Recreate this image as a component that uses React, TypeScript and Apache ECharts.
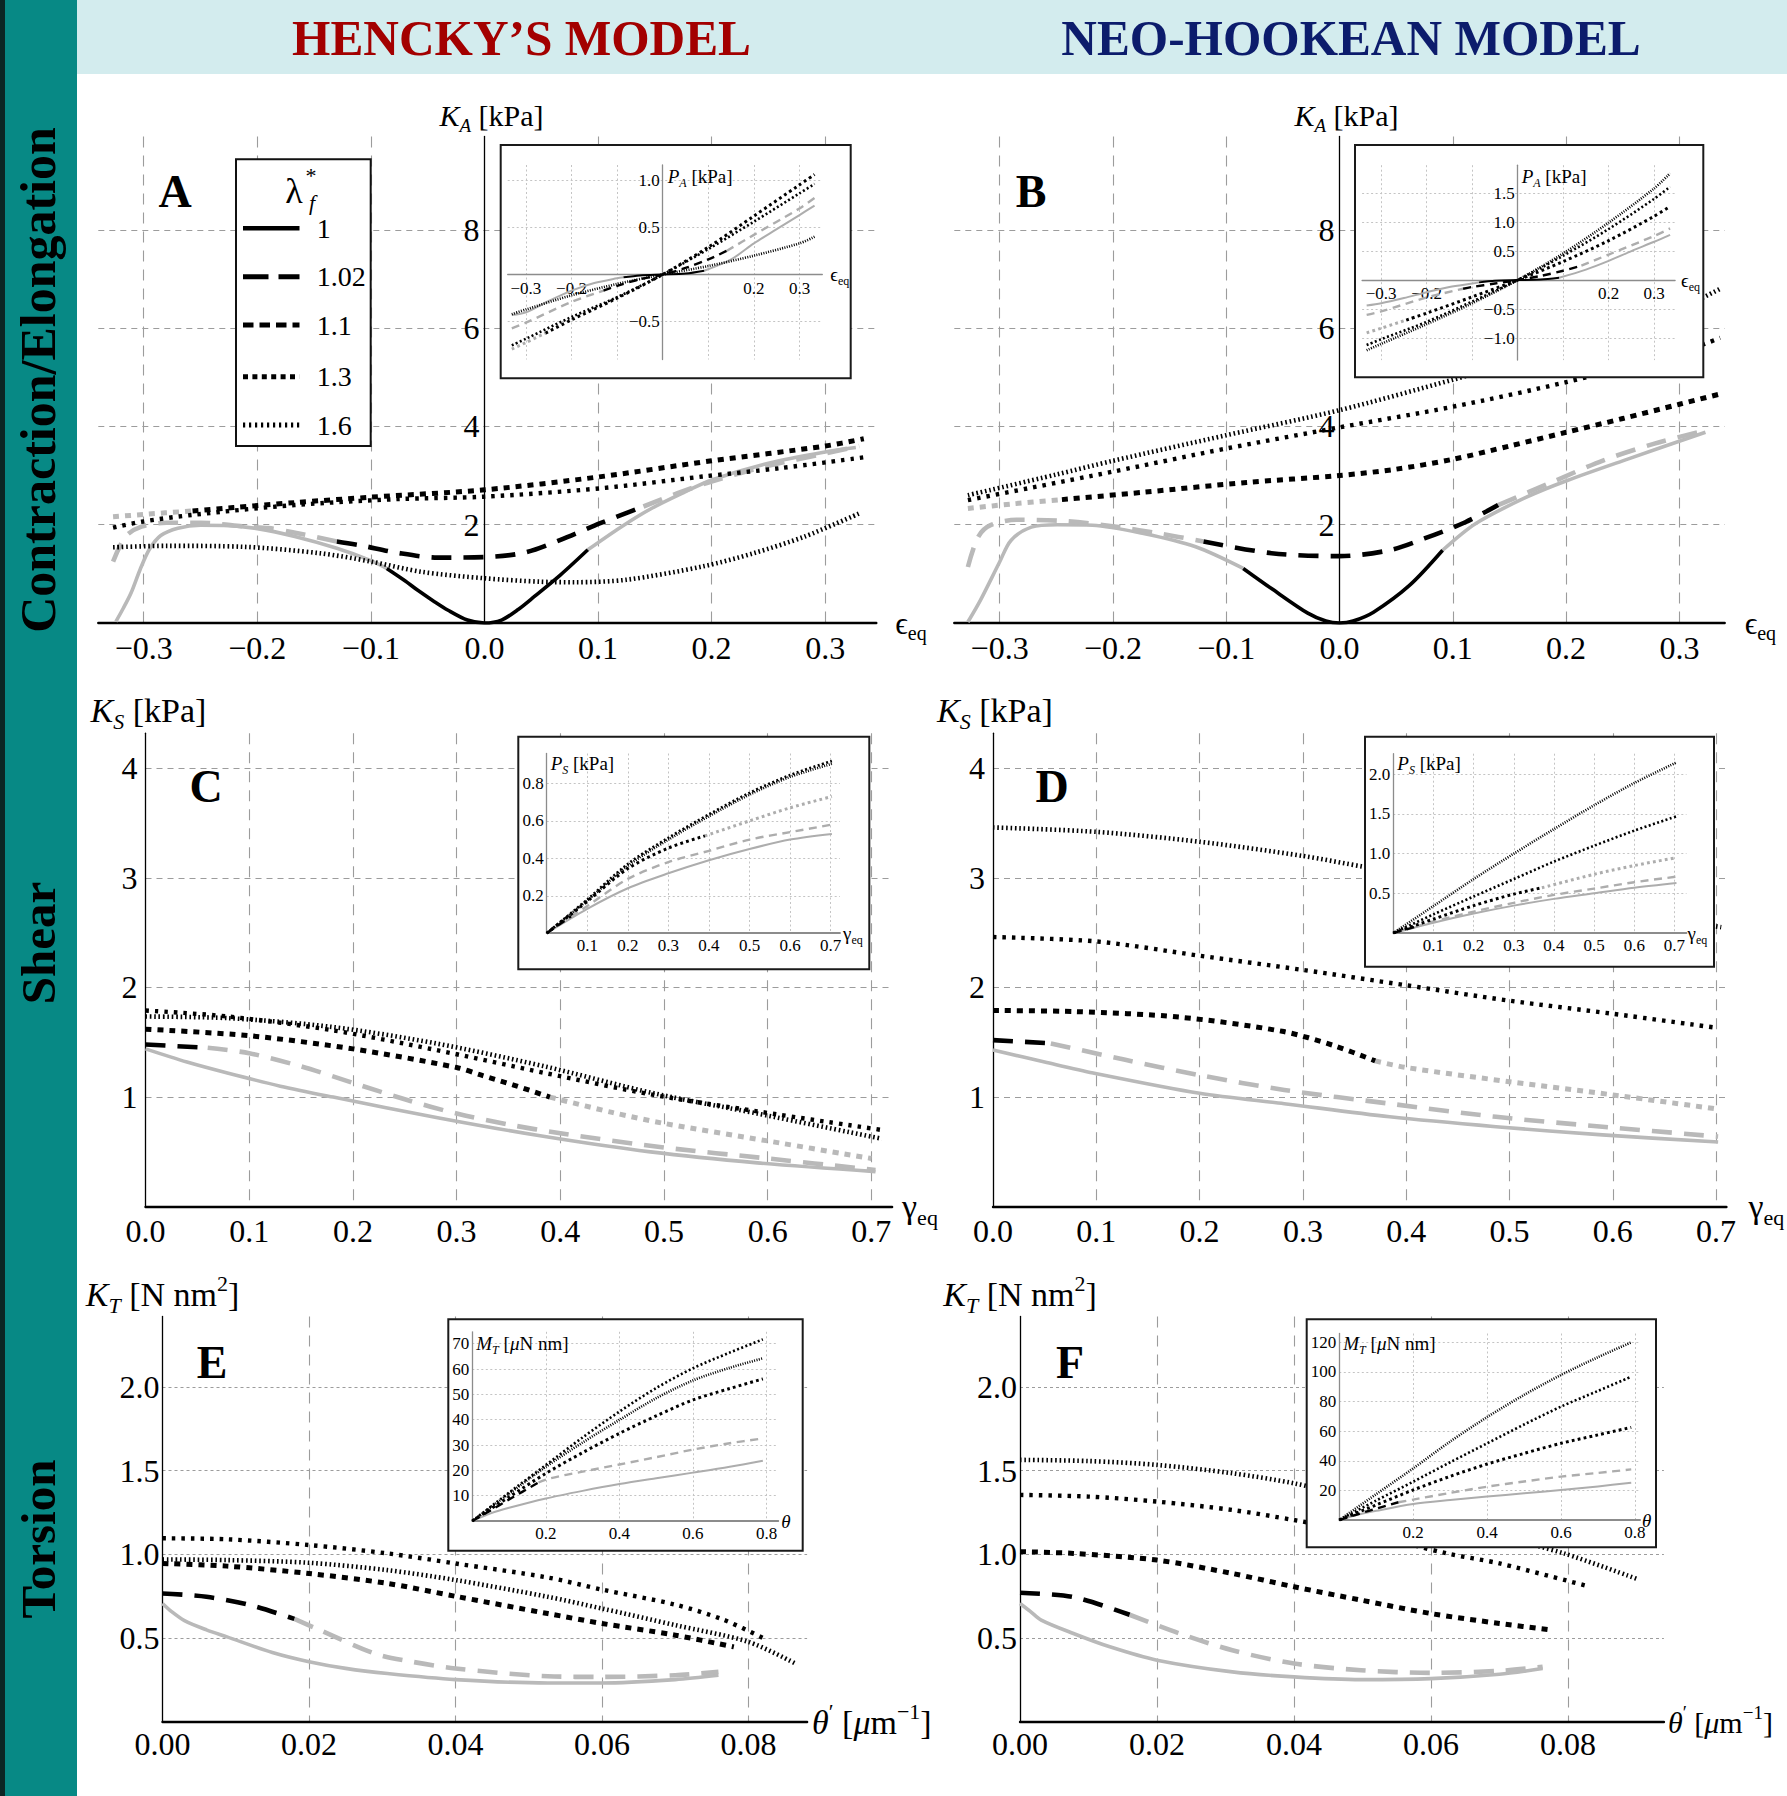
import React, { useEffect, useRef } from "react";
import * as echarts from "echarts";

type Pt = [number, number];
type Band = [number, number] | null;

const SERIF = '"Liberation Serif", "DejaVu Serif", "Times New Roman", serif';
const ALL: [number, number] = [-Infinity, Infinity];

// fibre pre-stretch values, one curve each
const LAMBDA_F = ["1", "1.02", "1.1", "1.3", "1.6"];

// ---------- A: Hencky, K_A [kPa] vs eps_eq ----------
const hKA1: Pt[] = [[-0.3245,0.03],[-0.318,0.3],[-0.311,0.62],[-0.303,1.1],[-0.295,1.5],[-0.285,1.78],[-0.27,1.93],[-0.25,1.99],[-0.225,1.98],[-0.2,1.92],[-0.167,1.76],[-0.13,1.52],[-0.1,1.27],[-0.086,1.11],[-0.07,0.86],[-0.059,0.67],[-0.045,0.45],[-0.032,0.26],[-0.015,0.06],[0,0],[0.015,0.06],[0.03,0.28],[0.044,0.54],[0.067,0.98],[0.091,1.49],[0.12,1.95],[0.147,2.33],[0.175,2.65],[0.2,2.91],[0.25,3.25],[0.3,3.48],[0.327,3.57]];
const hKA102: Pt[] = [[-0.327,1.25],[-0.316,1.76],[-0.302,1.96],[-0.28,2.04],[-0.25,2.04],[-0.21,1.96],[-0.19,1.93],[-0.17,1.85],[-0.13,1.66],[-0.109,1.58],[-0.077,1.43],[-0.041,1.33],[0,1.34],[0.035,1.43],[0.067,1.69],[0.102,2.03],[0.14,2.37],[0.17,2.64],[0.2,2.88],[0.25,3.2],[0.3,3.45],[0.33,3.6]];
const hKA11: Pt[] = [[-0.327,2.16],[-0.3,2.21],[-0.257,2.28],[-0.221,2.35],[-0.167,2.45],[-0.1,2.56],[0,2.71],[0.1,2.97],[0.2,3.3],[0.3,3.6],[0.334,3.75]];
const hKA13: Pt[] = [[-0.327,1.94],[-0.302,2.06],[-0.257,2.2],[-0.167,2.4],[-0.077,2.52],[0,2.57],[0.102,2.74],[0.192,2.98],[0.26,3.15],[0.334,3.37]];
const hKA16: Pt[] = [[-0.327,1.54],[-0.28,1.57],[-0.212,1.55],[-0.145,1.42],[-0.1,1.25],[-0.055,1.04],[0,0.91],[0.049,0.84],[0.08,0.83],[0.125,0.88],[0.192,1.15],[0.237,1.42],[0.282,1.76],[0.33,2.23]];
const hKA_bands: Band[] = [[-0.086, 0.091], [-0.13, 0.14], [-0.257, Infinity], ALL, ALL];

// ---------- B: neo-Hookean, K_A [kPa] vs eps_eq ----------
const nKA1: Pt[] = [[-0.328,0.02],[-0.317,0.46],[-0.3,1.24],[-0.29,1.68],[-0.272,1.95],[-0.249,2.0],[-0.218,1.99],[-0.173,1.82],[-0.127,1.55],[-0.085,1.11],[-0.06,0.7],[-0.028,0.2],[-0.012,0.04],[0,0],[0.012,0.04],[0.03,0.22],[0.062,0.77],[0.091,1.48],[0.12,2.02],[0.165,2.56],[0.201,2.9],[0.255,3.34],[0.323,3.88]];
const nKA102: Pt[] = [[-0.328,1.14],[-0.319,1.75],[-0.308,1.99],[-0.285,2.1],[-0.24,2.07],[-0.195,1.95],[-0.159,1.82],[-0.12,1.66],[-0.06,1.42],[0,1.36],[0.044,1.48],[0.075,1.72],[0.111,2.05],[0.14,2.4],[0.188,2.87],[0.233,3.31],[0.278,3.65],[0.323,3.92]];
const nKA11: Pt[] = [[-0.328,2.33],[-0.29,2.42],[-0.245,2.51],[-0.173,2.66],[-0.082,2.86],[0,3.0],[0.05,3.13],[0.1,3.33],[0.15,3.6],[0.2,3.88],[0.25,4.16],[0.3,4.45],[0.336,4.66]];
const nKA13: Pt[] = [[-0.328,2.5],[-0.2,3.08],[-0.1,3.55],[0,3.98],[0.1,4.4],[0.2,4.9],[0.3,5.5],[0.336,5.8]];
const nKA16: Pt[] = [[-0.328,2.6],[-0.25,3.02],[-0.2,3.3],[-0.1,3.82],[0,4.33],[0.1,4.95],[0.2,5.6],[0.3,6.4],[0.336,6.8]];
const nKA_bands: Band[] = [[-0.085, 0.091], [-0.12, 0.14], [-0.245, Infinity], ALL, ALL];

// ---------- A inset: Hencky, P_A [kPa] ----------
const hPA1: Pt[] = [[-0.331,-0.43],[-0.3,-0.4],[-0.25,-0.28],[-0.2,-0.17],[-0.15,-0.09],[-0.1,-0.04],[-0.086,-0.03],[-0.05,-0.01],[0,0],[0.05,0.01],[0.091,0.04],[0.15,0.16],[0.2,0.33],[0.25,0.48],[0.3,0.63],[0.333,0.73]];
const hPA102: Pt[] = [[-0.331,-0.57],[-0.3,-0.51],[-0.2,-0.29],[-0.13,-0.17],[-0.1,-0.12],[-0.05,-0.05],[0,0],[0.05,0.07],[0.1,0.16],[0.14,0.25],[0.2,0.42],[0.3,0.7],[0.333,0.81]];
const hPA11: Pt[] = [[-0.331,-0.79],[-0.3,-0.72],[-0.257,-0.62],[-0.2,-0.48],[-0.1,-0.25],[0,0],[0.1,0.29],[0.2,0.62],[0.3,0.95],[0.333,1.06]];
const hPA13: Pt[] = [[-0.331,-0.75],[-0.3,-0.68],[-0.2,-0.45],[-0.1,-0.24],[0,0],[0.1,0.27],[0.2,0.56],[0.3,0.86],[0.333,0.96]];
const hPA16: Pt[] = [[-0.331,-0.42],[-0.3,-0.37],[-0.2,-0.22],[-0.1,-0.1],[0,0],[0.1,0.09],[0.2,0.2],[0.3,0.33],[0.333,0.4]];

// ---------- B inset: neo-Hookean, P_A [kPa] ----------
const nPA1: Pt[] = [[-0.332,-0.44],[-0.3,-0.4],[-0.25,-0.31],[-0.2,-0.21],[-0.15,-0.12],[-0.1,-0.06],[-0.085,-0.04],[-0.05,-0.01],[0,0],[0.05,0.01],[0.091,0.04],[0.15,0.18],[0.2,0.33],[0.25,0.5],[0.3,0.66],[0.335,0.78]];
const nPA102: Pt[] = [[-0.332,-0.6],[-0.3,-0.54],[-0.2,-0.3],[-0.12,-0.15],[-0.1,-0.12],[-0.05,-0.06],[0,0],[0.05,0.07],[0.1,0.16],[0.14,0.25],[0.2,0.44],[0.3,0.76],[0.335,0.89]];
const nPA11: Pt[] = [[-0.332,-0.91],[-0.3,-0.83],[-0.245,-0.69],[-0.2,-0.57],[-0.1,-0.29],[0,0],[0.1,0.32],[0.2,0.68],[0.3,1.1],[0.335,1.27]];
const nPA13: Pt[] = [[-0.332,-1.12],[-0.3,-1.02],[-0.2,-0.72],[-0.1,-0.37],[0,0],[0.1,0.42],[0.2,0.88],[0.3,1.4],[0.335,1.61]];
const nPA16: Pt[] = [[-0.332,-1.21],[-0.3,-1.1],[-0.2,-0.76],[-0.1,-0.4],[0,0],[0.1,0.46],[0.2,0.99],[0.3,1.58],[0.335,1.84]];

// ---------- C: Hencky, K_S [kPa] vs gamma_eq ----------
const hKS1: Pt[] = [[0,1.44],[0.04,1.32],[0.079,1.22],[0.13,1.1],[0.181,1.0],[0.283,0.81],[0.385,0.64],[0.487,0.5],[0.59,0.4],[0.704,0.32]];
const hKS102: Pt[] = [[0,1.48],[0.06,1.45],[0.1,1.4],[0.15,1.28],[0.2,1.13],[0.25,0.98],[0.3,0.85],[0.35,0.75],[0.4,0.67],[0.5,0.54],[0.6,0.44],[0.704,0.335]];
const hKS11: Pt[] = [[0,1.62],[0.1,1.56],[0.2,1.44],[0.3,1.27],[0.324,1.2],[0.355,1.11],[0.39,1.0],[0.45,0.86],[0.5,0.76],[0.6,0.6],[0.7,0.44]];
const hKS13: Pt[] = [[0,1.79],[0.08,1.735],[0.18,1.61],[0.28,1.43],[0.385,1.22],[0.49,1.02],[0.59,0.87],[0.71,0.7]];
const hKS16: Pt[] = [[0,1.735],[0.08,1.72],[0.18,1.64],[0.28,1.49],[0.385,1.28],[0.49,1.035],[0.59,0.85],[0.71,0.62]];
const hKS_bands: Band[] = [null, [0, 0.06], [0, 0.39], ALL, ALL];

// ---------- D: neo-Hookean, K_S [kPa] vs gamma_eq ----------
const nKS1: Pt[] = [[0,1.43],[0.05,1.32],[0.097,1.22],[0.2,1.035],[0.282,0.94],[0.384,0.82],[0.487,0.73],[0.59,0.655],[0.702,0.59]];
const nKS102: Pt[] = [[0,1.52],[0.056,1.49],[0.128,1.34],[0.2,1.2],[0.282,1.065],[0.384,0.94],[0.487,0.82],[0.59,0.73],[0.702,0.64]];
const nKS11: Pt[] = [[0,1.79],[0.08,1.78],[0.18,1.73],[0.28,1.6],[0.33,1.47],[0.37,1.33],[0.4,1.27],[0.5,1.14],[0.6,1.02],[0.702,0.89]];
const nKS13: Pt[] = [[0,2.46],[0.1,2.42],[0.2,2.29],[0.3,2.16],[0.4,2.02],[0.5,1.88],[0.6,1.76],[0.702,1.63]];
const nKS16: Pt[] = [[0,3.46],[0.1,3.42],[0.2,3.33],[0.3,3.2],[0.36,3.1],[0.5,2.88],[0.6,2.71],[0.705,2.55]];
const nKS_bands: Band[] = [null, [0, 0.056], [0, 0.37], ALL, ALL];

// ---------- C inset: Hencky, P_S [kPa] ----------
const hPS1: Pt[] = [[0,0],[0.1,0.13],[0.2,0.24],[0.3,0.32],[0.4,0.39],[0.5,0.45],[0.6,0.5],[0.703,0.53]];
const hPS102: Pt[] = [[0,0],[0.06,0.09],[0.1,0.145],[0.2,0.29],[0.3,0.38],[0.4,0.44],[0.5,0.5],[0.6,0.54],[0.703,0.58]];
const hPS11: Pt[] = [[0,0],[0.1,0.17],[0.2,0.345],[0.3,0.455],[0.39,0.52],[0.5,0.6],[0.6,0.67],[0.703,0.73]];
const hPS13: Pt[] = [[0,0],[0.1,0.18],[0.2,0.37],[0.3,0.51],[0.4,0.635],[0.5,0.75],[0.6,0.845],[0.703,0.92]];
const hPS16: Pt[] = [[0,0],[0.1,0.175],[0.2,0.36],[0.3,0.5],[0.4,0.625],[0.5,0.74],[0.6,0.835],[0.703,0.905]];

// ---------- D inset: neo-Hookean, P_S [kPa] ----------
const nPS1: Pt[] = [[0,0],[0.1,0.13],[0.2,0.245],[0.3,0.345],[0.4,0.43],[0.5,0.5],[0.6,0.57],[0.705,0.63]];
const nPS102: Pt[] = [[0,0],[0.056,0.08],[0.1,0.145],[0.2,0.27],[0.3,0.38],[0.4,0.48],[0.5,0.56],[0.6,0.64],[0.705,0.71]];
const nPS11: Pt[] = [[0,0],[0.1,0.175],[0.2,0.345],[0.3,0.49],[0.37,0.57],[0.5,0.74],[0.6,0.85],[0.705,0.95]];
const nPS13: Pt[] = [[0,0],[0.1,0.235],[0.2,0.46],[0.3,0.68],[0.4,0.9],[0.5,1.1],[0.6,1.29],[0.705,1.47]];
const nPS16: Pt[] = [[0,0],[0.1,0.34],[0.2,0.68],[0.3,1.0],[0.4,1.31],[0.5,1.61],[0.6,1.89],[0.705,2.15]];

// ---------- E: Hencky, K_T [N nm^2] vs theta' ----------
const hKT1: Pt[] = [[0,0.707],[0.0012,0.66],[0.003,0.605],[0.006,0.55],[0.0088,0.508],[0.015,0.415],[0.02,0.36],[0.025,0.32],[0.0307,0.289],[0.04,0.253],[0.0526,0.233],[0.06,0.233],[0.07,0.253],[0.0759,0.279]];
const hKT102: Pt[] = [[0,0.767],[0.006,0.747],[0.012,0.697],[0.018,0.615],[0.021,0.558],[0.029,0.408],[0.034,0.36],[0.04,0.319],[0.0526,0.273],[0.06,0.269],[0.07,0.279],[0.0759,0.299]];
const hKT11: Pt[] = [[0,0.946],[0.0088,0.93],[0.02,0.886],[0.0307,0.827],[0.04,0.75],[0.0526,0.647],[0.06,0.588],[0.07,0.518],[0.078,0.448]];
const hKT13: Pt[] = [[0,1.096],[0.0088,1.09],[0.02,1.056],[0.0307,1.006],[0.04,0.946],[0.0526,0.862],[0.06,0.79],[0.07,0.7],[0.0766,0.61],[0.0825,0.49]];
const hKT16: Pt[] = [[0,0.97],[0.0088,0.966],[0.02,0.95],[0.0307,0.906],[0.04,0.847],[0.0526,0.747],[0.06,0.677],[0.07,0.578],[0.08,0.478],[0.0864,0.349]];
const hKT_bands: Band[] = [null, [0, 0.018], ALL, ALL, ALL];

// ---------- F: neo-Hookean, K_T [N nm^2] vs theta' ----------
const nKT1: Pt[] = [[0,0.707],[0.0015,0.66],[0.0031,0.608],[0.0078,0.528],[0.013,0.45],[0.02,0.369],[0.031,0.299],[0.04,0.269],[0.0498,0.253],[0.06,0.259],[0.07,0.285],[0.0763,0.319]];
const nKT102: Pt[] = [[0,0.771],[0.0078,0.745],[0.016,0.64],[0.0233,0.528],[0.031,0.428],[0.04,0.349],[0.0498,0.309],[0.06,0.293],[0.07,0.305],[0.0763,0.329]];
const nKT11: Pt[] = [[0,1.016],[0.0078,1.006],[0.02,0.966],[0.031,0.886],[0.04,0.807],[0.0498,0.727],[0.06,0.647],[0.07,0.588],[0.0778,0.548]];
const nKT13: Pt[] = [[0,1.355],[0.01,1.345],[0.02,1.315],[0.031,1.265],[0.04,1.205],[0.05,1.13],[0.0623,1.006],[0.07,0.946],[0.0832,0.807]];
const nKT16: Pt[] = [[0,1.564],[0.01,1.557],[0.02,1.534],[0.031,1.484],[0.04,1.424],[0.05,1.33],[0.06,1.22],[0.07,1.11],[0.0794,1.006],[0.09,0.855]];
const nKT_bands: Band[] = [null, [0, 0.016], ALL, ALL, ALL];

// ---------- E inset: Hencky, M_T [uN nm] vs theta ----------
const hMT1: Pt[] = [[0,0],[0.05,3.0],[0.1,5.2],[0.2,8.9],[0.3,11.9],[0.4,14.6],[0.5,16.9],[0.6,19.1],[0.7,21.4],[0.79,23.8]];
const hMT102: Pt[] = [[0,0],[0.05,4.2],[0.1,8.5],[0.18,15.2],[0.21,16.8],[0.3,19.5],[0.4,22.3],[0.5,25.2],[0.6,28.2],[0.7,30.7],[0.79,32.6]];
const hMT11: Pt[] = [[0,0],[0.1,9.5],[0.2,18.8],[0.3,27.0],[0.4,34.6],[0.5,41.5],[0.6,47.8],[0.7,52.3],[0.79,56.1]];
const hMT13: Pt[] = [[0,0],[0.1,11.2],[0.2,22.1],[0.3,33.0],[0.4,43.2],[0.5,52.5],[0.6,60.3],[0.7,66.5],[0.79,71.7]];
const hMT16: Pt[] = [[0,0],[0.1,10.8],[0.2,21.4],[0.3,31.0],[0.4,39.9],[0.5,48.5],[0.6,55.5],[0.7,60.5],[0.79,64.2]];
const hMT_bands: Band[] = [null, [0, 0.18], ALL, ALL, ALL];

// ---------- F inset: neo-Hookean, M_T [uN nm] vs theta ----------
const nMT1: Pt[] = [[0,0],[0.05,3.5],[0.1,6.2],[0.2,10.8],[0.3,13.5],[0.4,15.8],[0.5,18.0],[0.6,20.3],[0.7,22.7],[0.79,25.2]];
const nMT102: Pt[] = [[0,0],[0.08,6.2],[0.16,12.0],[0.2,13.8],[0.3,18.3],[0.4,22.5],[0.5,26.0],[0.6,29.3],[0.7,31.8],[0.79,34.2]];
const nMT11: Pt[] = [[0,0],[0.1,10.2],[0.2,20.3],[0.3,29.5],[0.4,37.8],[0.5,45.0],[0.6,51.8],[0.7,57.5],[0.79,62.6]];
const nMT13: Pt[] = [[0,0],[0.1,13.2],[0.2,25.9],[0.3,39.0],[0.4,51.8],[0.5,64.5],[0.6,76.6],[0.7,87.2],[0.79,96.8]];
const nMT16: Pt[] = [[0,0],[0.1,17.5],[0.2,34.9],[0.3,53.0],[0.4,69.5],[0.5,84.5],[0.6,98.0],[0.7,110],[0.79,120]];
const nMT_bands: Band[] = [null, [0, 0.16], ALL, ALL, ALL];

// ---------- tick values ----------
const EPS_TICKS = [-0.3, -0.2, -0.1, 0.1, 0.2, 0.3];
const EPS_LABELS = [-0.3, -0.2, -0.1, 0, 0.1, 0.2, 0.3];
const KA_TICKS = [2, 4, 6, 8];
const GAM_TICKS = [0.1, 0.2, 0.3, 0.4, 0.5, 0.6, 0.7];
const GAM_LABELS = [0, 0.1, 0.2, 0.3, 0.4, 0.5, 0.6, 0.7];
const KS_TICKS = [1, 2, 3, 4];
const TH_TICKS = [0.02, 0.04, 0.06, 0.08];
const TH_LABELS = [0, 0.02, 0.04, 0.06, 0.08];
const KT_TICKS = [0.5, 1.0, 1.5, 2.0];
const IN_EPS_LABELS = [-0.3, -0.2, 0.2, 0.3];
const hPA_TICKS = [-0.5, 0.5, 1.0];
const nPA_TICKS = [-1.0, -0.5, 0.5, 1.0, 1.5];
const hPS_TICKS = [0.2, 0.4, 0.6, 0.8];
const nPS_TICKS = [0.5, 1.0, 1.5, 2.0];
const IN_TH_TICKS = [0.2, 0.4, 0.6, 0.8];
const hMT_TICKS = [10, 20, 30, 40, 50, 60, 70];
const nMT_TICKS = [20, 40, 60, 80, 100, 120];

// ---------- drawing styles ----------
const W = 1787;
const H = 1796;
const GRAY = "#b9b9b9";
const INSET_GRAY = "#adadad";
const MAIN_STYLE = [
  { type: "solid", width: 3.6 },
  { type: [20, 12], width: 4.6 },
  { type: [6, 6], width: 5 },
  { type: [3.5, 6], width: 4.4 },
  { type: [1.6, 2.8], width: 4.6 },
];
const INSET_STYLE = [
  { type: "solid", width: 2 },
  { type: [8, 5.5], width: 2.4 },
  { type: [2.8, 3.2], width: 3 },
  { type: [2, 2.4], width: 2.6 },
  { type: [1, 1.4], width: 2.6 },
];
const LEGEND_STYLE = [
  { dash: null, width: 4.6 },
  { dash: [25.5, 10], width: 5 },
  { dash: [10.5, 6], width: 5 },
  { dash: [5, 4.4], width: 5 },
  { dash: [2.2, 3.8], width: 5 },
];

const fmt = (d: number) => (v: number) =>
  (v < -1e-9 ? "\u2212" : "") + Math.abs(v).toFixed(d);

function rich(fs: number) {
  const lh = Math.round(fs * 1.3);
  const ss = Math.round(fs * 0.64);
  const base = { fontFamily: SERIF, color: "#000" };
  return {
    i: { ...base, fontSize: fs, fontStyle: "italic", lineHeight: lh },
    r: { ...base, fontSize: fs, lineHeight: lh },
    sb: { ...base, fontSize: ss, fontStyle: "italic", lineHeight: ss, verticalAlign: "bottom" },
    sbr: { ...base, fontSize: ss, lineHeight: ss, verticalAlign: "bottom" },
    su: { ...base, fontSize: ss, lineHeight: ss, verticalAlign: "top" },
  };
}

const NAME_EPS = "{r|\u03f5}{sbr|eq}";
const NAME_GAM = "{r|\u03b3}{sbr|eq}";
const NAME_THP = "{i|\u03b8}{su|\u2032}{r| [}{i|\u03bc}{r|m}{su|\u22121}{r|]}";
const NAME_KA = "{i|K}{sb|A}{r| [kPa]}";
const NAME_KS = "{i|K}{sb|S}{r| [kPa]}";
const NAME_KT = "{i|K}{sb|T}{r| [N nm}{su|2}{r|]}";
const NAME_PA = "{i|P}{sb|A}{r| [kPa]}";
const NAME_PS = "{i|P}{sb|S}{r| [kPa]}";
const NAME_MT = "{i|M}{sb|T}{r| [}{i|\u03bc}{r|N nm]}";
const NAME_TH = "{i|\u03b8}";

interface AxisSpec {
  min: number; max: number; ticks: number[]; labels: number[]; dec: number;
  name: string; gap: number; pad?: number[]; margin: number; nameFs?: number;
}
interface PanelSpec {
  box: number[]; inset: boolean; x: AxisSpec; y: AxisSpec;
  curves: Pt[][]; bands: Band[]; frame?: number[];
}

const panels: PanelSpec[] = [
  { // A
    box: [98.3, 136.4, 778, 486.6], inset: false,
    x: { min: -0.34, max: 0.345, ticks: EPS_TICKS, labels: EPS_LABELS, dec: 1, name: NAME_EPS, gap: 19, margin: 9, nameFs: 31 },
    y: { min: 0, max: 9.9, ticks: KA_TICKS, labels: KA_TICKS, dec: 0, name: NAME_KA, gap: 21, pad: [0, 0, 0, 14], margin: 5, nameFs: 30 },
    curves: [hKA1, hKA102, hKA11, hKA13, hKA16], bands: hKA_bands,
  },
  { // B
    box: [954.3, 136.4, 770.4, 486.6], inset: false,
    x: { min: -0.34, max: 0.34, ticks: EPS_TICKS, labels: EPS_LABELS, dec: 1, name: NAME_EPS, gap: 20, margin: 9, nameFs: 31 },
    y: { min: 0, max: 9.9, ticks: KA_TICKS, labels: KA_TICKS, dec: 0, name: NAME_KA, gap: 21, pad: [0, 0, 0, 14], margin: 5, nameFs: 30 },
    curves: [nKA1, nKA102, nKA11, nKA13, nKA16], bands: nKA_bands,
  },
  { // C
    box: [145.5, 733.2, 746.6, 473.5], inset: false,
    x: { min: 0, max: 0.72, ticks: GAM_TICKS, labels: GAM_LABELS, dec: 1, name: NAME_GAM, gap: 10, margin: 8, nameFs: 34 },
    y: { min: 0, max: 4.32, ticks: KS_TICKS, labels: KS_TICKS, dec: 0, name: NAME_KS, gap: 23, pad: [0, 0, 0, 6], margin: 8, nameFs: 34 },
    curves: [hKS1, hKS102, hKS11, hKS13, hKS16], bands: hKS_bands,
  },
  { // D
    box: [993, 733.2, 733.4, 473.5], inset: false,
    x: { min: 0, max: 0.71, ticks: GAM_TICKS, labels: GAM_LABELS, dec: 1, name: NAME_GAM, gap: 22, margin: 8, nameFs: 34 },
    y: { min: 0, max: 4.32, ticks: KS_TICKS, labels: KS_TICKS, dec: 0, name: NAME_KS, gap: 23, pad: [0, 0, 0, 4], margin: 8, nameFs: 34 },
    curves: [nKS1, nKS102, nKS11, nKS13, nKS16], bands: nKS_bands,
  },
  { // E
    box: [162.5, 1316.4, 644.6, 405.6], inset: false,
    x: { min: 0, max: 0.088, ticks: TH_TICKS, labels: TH_LABELS, dec: 2, name: NAME_THP, gap: 5, margin: 6, nameFs: 34 },
    y: { min: 0, max: 2.42, ticks: KT_TICKS, labels: KT_TICKS, dec: 1, name: NAME_KT, gap: 22, margin: 3, nameFs: 34 },
    curves: [hKT1, hKT102, hKT11, hKT13, hKT16], bands: hKT_bands,
  },
  { // F
    box: [1020, 1316.4, 643.9, 405.6], inset: false,
    x: { min: 0, max: 0.094, ticks: TH_TICKS, labels: TH_LABELS, dec: 2, name: NAME_THP, gap: 4, margin: 6, nameFs: 30 },
    y: { min: 0, max: 2.42, ticks: KT_TICKS, labels: KT_TICKS, dec: 1, name: NAME_KT, gap: 22, margin: 3, nameFs: 34 },
    curves: [nKT1, nKT102, nKT11, nKT13, nKT16], bands: nKT_bands,
  },
  { // A inset
    box: [507.7, 165, 314.6, 194.5], inset: true, frame: [500.7, 145, 350, 233.3],
    x: { min: -0.34, max: 0.35, ticks: EPS_TICKS, labels: IN_EPS_LABELS, dec: 1, name: NAME_EPS, gap: 8, margin: 5 },
    y: { min: -0.9, max: 1.16, ticks: hPA_TICKS, labels: hPA_TICKS, dec: 1, name: NAME_PA, gap: -11, pad: [0, 0, 0, 5], margin: 3 },
    curves: [hPA1, hPA102, hPA11, hPA13, hPA16], bands: hKA_bands,
  },
  { // B inset
    box: [1362.1, 165.2, 313, 194.9], inset: true, frame: [1355, 145, 348.3, 232.3],
    x: { min: -0.342, max: 0.346, ticks: EPS_TICKS, labels: IN_EPS_LABELS, dec: 1, name: NAME_EPS, gap: 6, margin: 5 },
    y: { min: -1.38, max: 1.98, ticks: nPA_TICKS, labels: nPA_TICKS, dec: 1, name: NAME_PA, gap: -11.5, pad: [0, 0, 0, 4], margin: 3 },
    curves: [nPA1, nPA102, nPA11, nPA13, nPA16], bands: nKA_bands,
  },
  { // C inset
    box: [546.7, 753.5, 293.3, 179.7], inset: true, frame: [518.3, 736.7, 351, 232.6],
    x: { min: 0, max: 0.723, ticks: GAM_TICKS, labels: GAM_TICKS, dec: 1, name: NAME_GAM, gap: 3, margin: 4 },
    y: { min: 0, max: 0.96, ticks: hPS_TICKS, labels: hPS_TICKS, dec: 1, name: NAME_PS, gap: -10, pad: [0, 0, 0, 4], margin: 3 },
    curves: [hPS1, hPS102, hPS11, hPS13, hPS16], bands: hKS_bands,
  },
  { // D inset
    box: [1393.3, 753.7, 293.2, 179.3], inset: true, frame: [1365, 736.7, 349, 230],
    x: { min: 0, max: 0.73, ticks: GAM_TICKS, labels: GAM_TICKS, dec: 1, name: NAME_GAM, gap: 1, margin: 4 },
    y: { min: 0, max: 2.26, ticks: nPS_TICKS, labels: nPS_TICKS, dec: 1, name: NAME_PS, gap: -10, pad: [0, 0, 0, 4], margin: 3 },
    curves: [nPS1, nPS102, nPS11, nPS13, nPS16], bands: nKS_bands,
  },
  { // E inset
    box: [472.3, 1331.8, 306, 189.2], inset: true, frame: [448.3, 1319.3, 354.4, 231.4],
    x: { min: 0, max: 0.832, ticks: IN_TH_TICKS, labels: IN_TH_TICKS, dec: 1, name: NAME_TH, gap: 3, margin: 4 },
    y: { min: 0, max: 74.7, ticks: hMT_TICKS, labels: hMT_TICKS, dec: 0, name: NAME_MT, gap: -11.5, pad: [0, 0, 0, 4], margin: 3 },
    curves: [hMT1, hMT102, hMT11, hMT13, hMT16], bands: hMT_bands,
  },
  { // F inset
    box: [1339.3, 1333.5, 300.8, 186.5], inset: true, frame: [1306.7, 1319.3, 349.3, 228],
    x: { min: 0, max: 0.814, ticks: IN_TH_TICKS, labels: IN_TH_TICKS, dec: 1, name: NAME_TH, gap: 2, margin: 4 },
    y: { min: 0, max: 126, ticks: nMT_TICKS, labels: nMT_TICKS, dec: 0, name: NAME_MT, gap: -10, pad: [0, 0, 0, 4], margin: 3 },
    curves: [nMT1, nMT102, nMT11, nMT13, nMT16], bands: nMT_bands,
  },
];

function makeAxis(p: PanelSpec, dim: "x" | "y", gi: number) {
  const a = dim === "x" ? p.x : p.y;
  const other = dim === "x" ? p.y : p.x;
  const inset = p.inset;
  const tickFs = inset ? 17 : 32;
  const nameFs = a.nameFs ?? (inset ? 19 : 31);
  const main = !inset;
  // when the other axis spans zero, move this axis (line and labels) onto its zero
  const size = dim === "x" ? p.box[3] : p.box[2];
  const cross = other.min < 0 && other.max > 0;
  const offset = cross ? -((0 - other.min) / (other.max - other.min)) * size : 0;
  return {
    type: "value",
    gridIndex: gi,
    min: a.min,
    max: a.max,
    z: inset ? 21 : 0,
    offset,
    axisLine: {
      show: true,
      onZero: false,
      lineStyle: {
        color: inset ? "#8c8c8c" : "#000",
        width: inset ? (dim === "x" && p.y.min === 0 ? 1.8 : 1.3) : dim === "x" ? 2.4 : 1.3,
      },
    },
    axisTick: { show: false, customValues: a.ticks },
    axisLabel: {
      customValues: a.labels,
      formatter: fmt(a.dec),
      fontFamily: SERIF,
      fontSize: tickFs,
      color: "#000",
      margin: a.margin,
    },
    splitLine: {
      show: true,
      lineStyle: inset
        ? { color: "#c4c4c4", width: 1, type: [2, 2.5] }
        : {
            color: "#9c9c9c",
            width: 1.1,
            type: dim === "x" ? [11, 8] : p.y.max < 3 ? [3, 3] : [6, 5],
          },
    },
    name: a.name,
    nameLocation: "end",
    nameGap: a.gap,
    nameMoveOverlap: false,
    nameTextStyle: {
      rich: rich(nameFs),
      align: dim === "x" ? "left" : main ? "center" : "left",
      verticalAlign: "middle",
      padding: a.pad || 0,
    },
  };
}

function segments(pts: Pt[], band: Band, k: number, gi: number, inset: boolean) {
  const st = (inset ? INSET_STYLE : MAIN_STYLE)[k];
  const gray = inset ? INSET_GRAY : GRAY;
  const parts =
    band === null
      ? [{ d: pts, on: false }]
      : [
          { d: pts.filter((p) => p[0] <= band[0]), on: false },
          { d: pts.filter((p) => p[0] >= band[0] && p[0] <= band[1]), on: true },
          { d: pts.filter((p) => p[0] >= band[1]), on: false },
        ];
  return parts
    .filter((s) => s.d.length > 1)
    .map((s) => ({
      type: "line",
      xAxisIndex: gi,
      yAxisIndex: gi,
      data: s.d,
      symbol: "none",
      showSymbol: false,
      smooth: 0.3,
      silent: true,
      clip: true,
      z: (inset ? 22 : 2) + (s.on ? 1 : 0),
      lineStyle: { color: s.on ? "#000" : gray, width: st.width, type: st.type, cap: "butt", join: "round" },
    }));
}

function txt(x: number, y: number, text: string, font: string, fill = "#000", extra: any = {}) {
  return {
    type: "text",
    x,
    y,
    silent: true,
    z: extra.z ?? 5,
    rotation: extra.rotation ?? 0,
    scaleX: extra.scaleX ?? 1,
    style: {
      text,
      font,
      fill,
      align: extra.align ?? "center",
      verticalAlign: "middle",
      textAlign: extra.align ?? "center",
      textVerticalAlign: "middle",
    },
  };
}

function buildOption() {
  const grid: any[] = [];
  const xAxis: any[] = [];
  const yAxis: any[] = [];
  const series: any[] = [];
  panels.forEach((p, gi) => {
    grid.push({ left: p.box[0], top: p.box[1], width: p.box[2], height: p.box[3], containLabel: false, outerBoundsMode: "none" });
    xAxis.push(makeAxis(p, "x", gi));
    yAxis.push(makeAxis(p, "y", gi));
    p.curves.forEach((c, k) => series.push(...segments(c, p.bands[k], k, gi, p.inset)));
  });

  const g: any[] = [];
  // page furniture: row strip and column header
  g.push({ type: "rect", silent: true, z: 0, shape: { x: 0, y: 0, width: 77, height: H }, style: { fill: "#078985" } });
  g.push({ type: "rect", silent: true, z: 0, shape: { x: 0, y: 0, width: 5, height: H }, style: { fill: "#0b2624" } });
  g.push({ type: "rect", silent: true, z: 0, shape: { x: 77, y: 0, width: W - 77, height: 74 }, style: { fill: "#d3ecee" } });
  g.push(txt(521.5, 38, "HENCKY\u2019S MODEL", `bold 51px ${SERIF}`, "#a30000", { scaleX: 0.967 }));
  g.push(txt(1351, 38, "NEO-HOOKEAN MODEL", `bold 51px ${SERIF}`, "#0c1c6c", { scaleX: 0.967 }));
  g.push(txt(38, 380, "Contraction/Elongation", `bold 50px ${SERIF}`, "#000", { rotation: Math.PI / 2 }));
  g.push(txt(38, 943, "Shear", `bold 49px ${SERIF}`, "#000", { rotation: Math.PI / 2 }));
  g.push(txt(38, 1539, "Torsion", `bold 49px ${SERIF}`, "#000", { rotation: Math.PI / 2 }));

  // panel letters
  const letters: [string, number, number][] = [["A", 175, 191], ["B", 1031, 191], ["C", 206, 786], ["D", 1052, 786], ["E", 212, 1362], ["F", 1070, 1362]];
  letters.forEach(([t, x, y]) => g.push(txt(x, y, t, `bold 46px ${SERIF}`)));

  // inset frames
  panels.forEach((p) => {
    if (!p.frame) return;
    const [x, y, w, h] = p.frame;
    g.push({ type: "rect", silent: true, z: 20, shape: { x, y, width: w, height: h }, style: { fill: "#fff", stroke: "#1a1a1a", lineWidth: 2 } });
  });

  // legend box
  g.push({ type: "rect", silent: true, z: 20, shape: { x: 236, y: 159.3, width: 134.7, height: 286.7 }, style: { fill: "#fff", stroke: "#111", lineWidth: 2 } });
  g.push(txt(294, 191, "\u03bb", `36px ${SERIF}`, "#000", { z: 21 }));
  g.push(txt(311, 175, "*", `22px ${SERIF}`, "#000", { z: 21 }));
  g.push(txt(312, 202, "f", `italic 22px ${SERIF}`, "#000", { z: 21 }));
  const rowY = [228.3, 276.7, 325, 376.7, 425];
  LAMBDA_F.forEach((lab, k) => {
    const st = LEGEND_STYLE[k];
    g.push({
      type: "line", silent: true, z: 21,
      shape: { x1: 243, y1: rowY[k], x2: 299.5, y2: rowY[k] },
      style: { stroke: "#000", lineWidth: st.width, lineDash: st.dash || null, lineCap: "butt" },
    });
    g.push(txt(316.7, rowY[k], lab, `28px ${SERIF}`, "#000", { align: "left", z: 21 }));
  });

  return {
    animation: false,
    backgroundColor: "#fff",
    textStyle: { fontFamily: SERIF },
    grid,
    xAxis,
    yAxis,
    series,
    graphic: { elements: g },
  };
}

export default function App() {
  const ref = useRef<HTMLDivElement>(null);
  useEffect(() => {
    const chart = echarts.init(ref.current as HTMLDivElement, null, { renderer: "svg", width: W, height: H });
    chart.setOption(buildOption() as any);
    return () => chart.dispose();
  }, []);
  return (
    <div
      ref={ref}
      style={{ position: "absolute", left: 0, top: 0, width: W, height: H, background: "#fff" }}
    />
  );
}
